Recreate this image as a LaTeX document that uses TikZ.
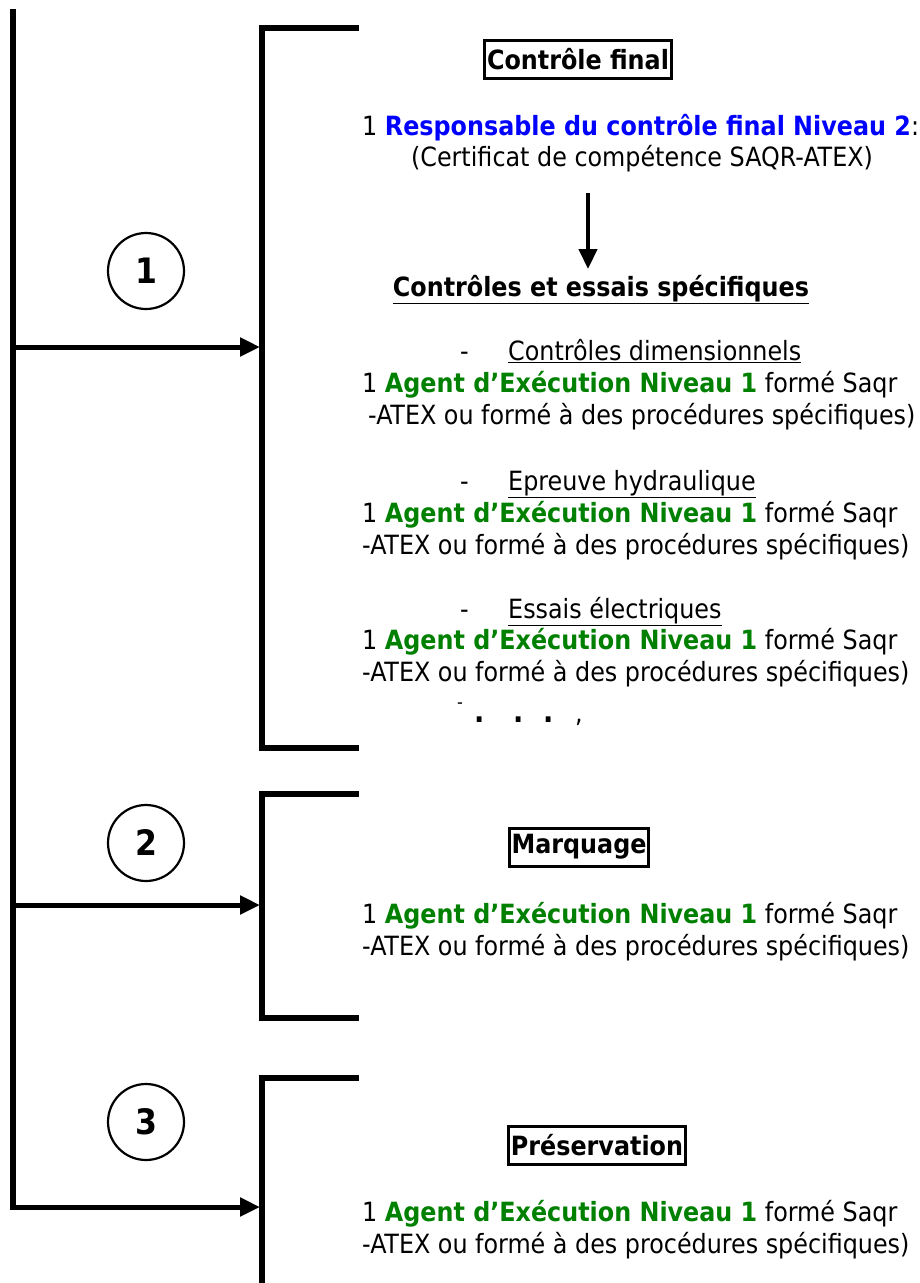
\documentclass[tikz,border=0pt]{standalone}
\usepackage{fontspec}
\setmainfont{DejaVu Sans Condensed}
\usetikzlibrary{arrows.meta}
\definecolor{myblue}{RGB}{0,0,255}
\definecolor{mygreen}{RGB}{0,128,0}
\tikzset{
  txt/.style={anchor=mid west,inner sep=0pt,yshift=-6pt,font=\fontsize{26.5}{30}\selectfont},
  ctxt/.style={anchor=mid,inner sep=0pt,yshift=-6pt,font=\fontsize{26.5}{30}\selectfont},
  titlebox/.style={draw,line width=3pt,inner xsep=2.5pt,inner ysep=4pt,minimum height=38pt,font=\fontsize{26.5}{30}\selectfont\bfseries},
  numcirc/.style={draw,circle,line width=2.2pt,minimum size=76pt,inner sep=0pt,font=\fontsize{35}{40}\selectfont\bfseries},
  bracket/.style={line width=6pt,line cap=rect},
  mainline/.style={line width=6pt},
  flow/.style={line width=5pt,-{Triangle[length=20pt,width=18pt]}},
  downflow/.style={line width=4.5pt,-{Triangle[length=20pt,width=18pt]}}
}
\newcommand{\agentline}{1 \textcolor{mygreen}{\textbf{Agent d’Exécution Niveau 1}} formé Saqr}
\begin{document}
\begin{tikzpicture}[x=1pt,y=-1pt]
\useasboundingbox (0,0) rectangle (920,1283);
% main vertical line
\coordinate (mtop) at (13,9);
\coordinate (mbot) at (13,1210);
\draw[mainline] (mtop) -- (mbot);
% brackets
\draw[bracket] (356,28) -- (262,28) -- (262,748) -- (356,748);
\draw[bracket] (356,794) -- (262,794) -- (262,1018) -- (356,1018);
\draw[bracket] (356,1078) -- (262,1078) -- (262,1290);
% arrows from main line
\coordinate (m1) at (11,347); \coordinate (b1) at (260,347);
\coordinate (m2) at (11,905); \coordinate (b2) at (260,905);
\coordinate (m3) at (11,1207); \coordinate (b3) at (260,1207);
\draw[flow] (m1) -- (b1);
\draw[flow] (m2) -- (b2);
\draw[flow] (m3) -- (b3);
% circles
\node[numcirc] (n1) at (146,271) {1};
\node[numcirc] (n2) at (146,843) {2};
\node[numcirc] (n3) at (146,1122) {3};
% section 1
\node[titlebox] (cf) at (578,59) {Contrôle final};
\node[txt] (r1) at (362,127) {1 \textcolor{myblue}{\textbf{Responsable du contrôle final Niveau 2}}:};
\node[ctxt] (c1) at (642,158) {(Certificat de compétence SAQR-ATEX)};
\coordinate (atop) at (588,193);
\coordinate (abot) at (588,269);
\draw[downflow] (atop) -- (abot);
\node[ctxt,font=\fontsize{26.5}{30}\selectfont\bfseries] (ces) at (601,288) {\underline{Contrôles et essais spécifiques}};
% item 1
\node[txt] (d1) at (460,352) {-};
\node[txt] (i1) at (508,352) {\underline{Contrôles dimensionnels}};
\node[txt] (a1) at (362,384) {\agentline};
\node[txt] (x1) at (368,416) {-ATEX ou formé à des procédures spécifiques)};
% item 2
\node[txt] (d2) at (460,482) {-};
\node[txt] (i2) at (508,482) {\underline{Epreuve hydraulique}};
\node[txt] (a2) at (362,514) {\agentline};
\node[txt] (x2) at (362,546) {-ATEX ou formé à des procédures spécifiques)};
% item 3
\node[txt] (d3) at (460,610) {-};
\node[txt] (i3) at (508,610) {\underline{Essais électriques}};
\node[txt] (a3) at (362,641) {\agentline};
\node[txt] (x3) at (362,673) {-ATEX ou formé à des procédures spécifiques)};
% dots
\node[txt,yshift=6pt,font=\fontsize{18}{20}\selectfont] (dd) at (457,706) {-};
\node[txt,font=\fontsize{30}{34}\selectfont\bfseries] (dt1) at (474,714) {.};
\node[txt,font=\fontsize{30}{34}\selectfont\bfseries] (dt2) at (513,714) {.};
\node[txt,font=\fontsize{30}{34}\selectfont\bfseries] (dt3) at (543,714) {.};
\node[txt] (cm) at (575,714) {,};
% section 2
\node[titlebox] (mq) at (579,847) {Marquage};
\node[txt] (a4) at (362,915) {\agentline};
\node[txt] (x4) at (362,947) {-ATEX ou formé à des procédures spécifiques)};
% section 3
\node[titlebox] (pr) at (597,1145) {Préservation};
\node[txt] (a5) at (362,1213) {\agentline};
\node[txt] (x5) at (362,1245) {-ATEX ou formé à des procédures spécifiques)};
\end{tikzpicture}
\end{document}
